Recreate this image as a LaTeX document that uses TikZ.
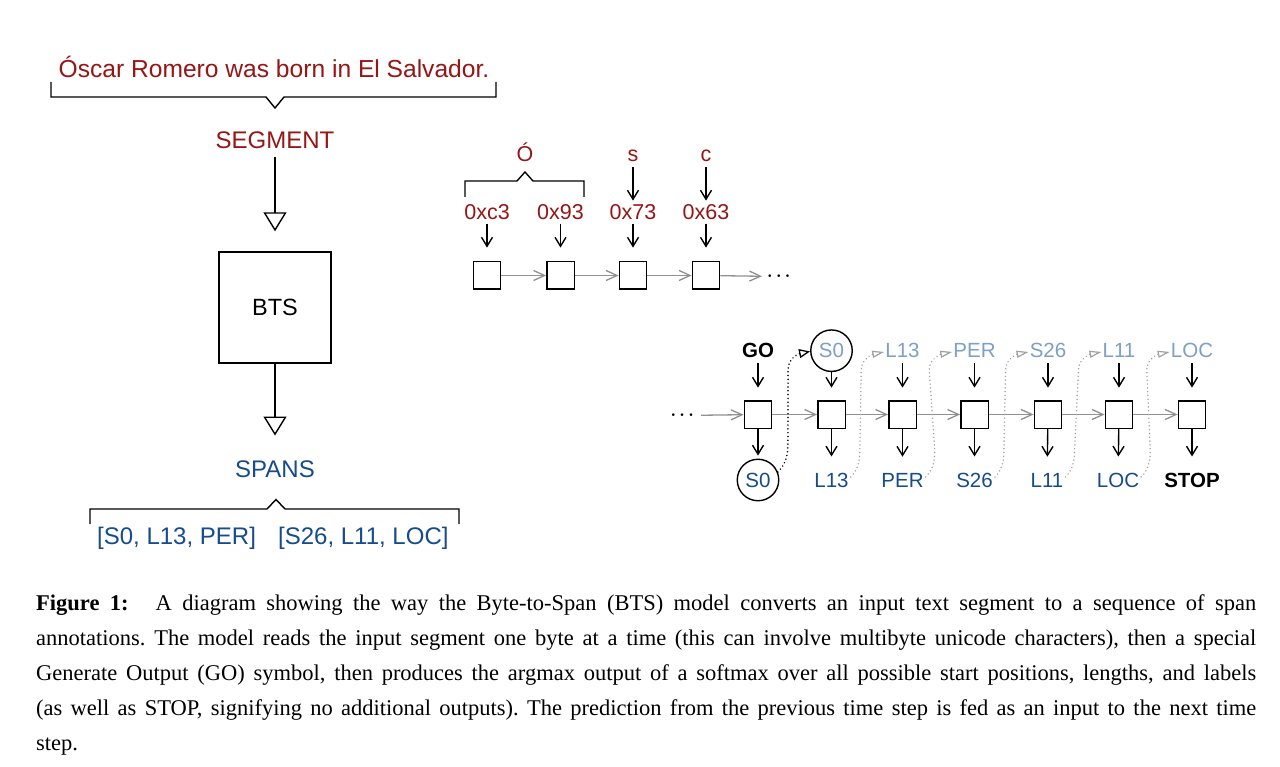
\documentclass[tikz,border=0pt]{standalone}
\usepackage{fontspec}
\setmainfont{Liberation Serif}
\newfontfamily\hv{Liberation Sans}
\usetikzlibrary{arrows.meta,calc}
\definecolor{dred}{RGB}{150,22,22}
\definecolor{dblue}{RGB}{22,75,140}
\definecolor{lblue}{RGB}{125,160,200}
\definecolor{agray}{RGB}{145,145,145}
\definecolor{dgray}{RGB}{160,160,160}
\begin{document}
\frenchspacing
\begin{tikzpicture}[x=1pt,y=-1pt,
  bigtxt/.style={inner sep=0pt, font=\hv\fontsize{24}{28}\selectfont},
  bytetxt/.style={inner sep=0pt, font=\hv\fontsize{21.5}{25}\selectfont, text=dred},
  lbl/.style={inner sep=0pt, font=\hv\fontsize{20.5}{24}\selectfont},
  boldlbl/.style={inner sep=0pt, font=\hv\bfseries\fontsize{20.5}{24}\selectfont},
  cell/.style={draw, line width=1.4pt, minimum size=27.4pt, inner sep=0pt},
  ring/.style={draw, circle, line width=1.4pt, minimum size=41.5pt, inner sep=0pt, font=\hv\fontsize{20.5}{24}\selectfont},
  bline/.style={line width=1.4pt},
  darr/.style={line width=1.4pt, -{Straight Barb[length=9pt,width=11pt,line width=1.4pt]}},
  garr/.style={line width=1.3pt, draw=agray, -{Straight Barb[length=11pt,width=10pt,line width=1.3pt]}},
  bigarr/.style={line width=1.4pt, -{Triangle[open, length=19pt, width=23pt]}},
  kdot/.style={line width=1.7pt, dash pattern=on 0.01pt off 3.8pt, line cap=round, -{Triangle[open, length=11pt, width=9pt, line width=1.3pt]}},
  gdot/.style={line width=1.6pt, draw=dgray, dash pattern=on 0.01pt off 3.8pt, line cap=round, -{Triangle[open, length=12pt, width=7pt, line width=1.2pt]}},
  dotstxt/.style={inner sep=0pt, font=\fontsize{17}{17}\selectfont\boldmath},
  captxt/.style={inner sep=0pt, anchor=base west, font=\fontsize{22.5}{26}\selectfont}
]
\fill[white] (0,0) rectangle (1280,767);
\useasboundingbox (0,0) rectangle (1280,767);

% ---------- left column ----------
\node[bigtxt, text=dred, anchor=base, font=\hv\fontsize{24.6}{28}\selectfont] (sent) at (274,78) {Óscar Romero was born in El Salvador.};
\draw[bline] (51,82) -- (51,97) -- (266,97) -- (275,108) -- (284,97) -- (496,97) -- (496,82);
\node[bigtxt, text=dred, anchor=base] (seg) at (275,149) {SEGMENT};
\node[draw, line width=1.4pt, minimum width=112pt, minimum height=111pt, inner sep=0pt, font=\hv\fontsize{23.5}{28}\selectfont] (bts) at (275,307.5) {BTS};
\node[bigtxt, text=dblue, anchor=base] (spans) at (275,477) {SPANS};
\draw[bigarr, shorten <=8pt, shorten >=20pt] (seg) -- (bts);
\draw[bigarr, shorten >=24.5pt] (bts) -- (spans);
\draw[bline] (90,524) -- (90,509) -- (267,509) -- (276,499.5) -- (285,509) -- (459,509) -- (459,524);
\node[bigtxt, text=dblue, anchor=base west] (sp1) at (97,544) {[S0, L13, PER]};
\node[bigtxt, text=dblue, anchor=base west] (sp2) at (278,544) {[S26, L11, LOC]};

% ---------- byte row ----------
\node[bytetxt, anchor=base] (oac) at (525,162) {Ó};
\draw[bline] (465,197) -- (465,181) -- (517,181) -- (525,172) -- (533,181) -- (584,181) -- (584,197);
\node[bytetxt, anchor=base] (cs) at (633,162) {s};
\node[bytetxt, anchor=base] (cc) at (706,162) {c};
\node[bytetxt, anchor=base] (h1) at (487,219.3) {0xc3};
\node[bytetxt, anchor=base] (h2) at (560.5,219.3) {0x93};
\node[bytetxt, anchor=base] (h3) at (633,219.3) {0x73};
\node[bytetxt, anchor=base] (h4) at (706,219.3) {0x63};
\node[cell] (a1) at (487,275.5) {};
\node[cell] (a2) at (560.5,275.5) {};
\node[cell] (a3) at (633,275.5) {};
\node[cell] (a4) at (706,275.5) {};
\node[dotstxt, anchor=west] (dots1) at (767,276.5) {$\cdots$};
\draw[darr, shorten <=5pt, shorten >=3.5pt] (cs) -- (h3);
\draw[darr, shorten <=5pt, shorten >=3.5pt] (cc) -- (h4);
\foreach \i in {1,2,3,4} { \draw[darr, shorten <=4pt, shorten >=13.5pt] (h\i) -- (a\i); }
\draw[garr] (a1) -- (a2);
\draw[garr] (a2) -- (a3);
\draw[garr] (a3) -- (a4);
\draw[garr, shorten >=5pt] (a4) -- (dots1);

% ---------- output row ----------
\node[dotstxt, anchor=east] (dots2) at (694,415.5) {$\cdots$};
\node[cell] (b1) at (758,414.5) {};
\node[cell] (b2) at (831.5,414.5) {};
\node[cell] (b3) at (902.5,414.5) {};
\node[cell] (b4) at (974.5,414.5) {};
\node[cell] (b5) at (1048,414.5) {};
\node[cell] (b6) at (1119,414.5) {};
\node[cell] (b7) at (1192,414.5) {};
\draw[garr, shorten <=7pt] (dots2) -- (b1);
\draw[garr] (b1) -- (b2);
\draw[garr] (b2) -- (b3);
\draw[garr] (b3) -- (b4);
\draw[garr] (b4) -- (b5);
\draw[garr] (b5) -- (b6);
\draw[garr] (b6) -- (b7);

% top labels
\node[boldlbl, anchor=base] (go) at (758,357) {GO};
\node[ring, text=lblue] (ts0) at (831.5,350.7) {S0};
\node[lbl, text=lblue, anchor=base] (t3) at (902.5,357) {L13};
\node[lbl, text=lblue, anchor=base] (t4) at (974.5,357) {PER};
\node[lbl, text=lblue, anchor=base] (t5) at (1048,357) {S26};
\node[lbl, text=lblue, anchor=base] (t6) at (1119,357) {L11};
\node[lbl, text=lblue, anchor=base] (t7) at (1192,357) {LOC};
\draw[darr, shorten <=6pt, shorten >=12.5pt] (go) -- (b1);
\draw[darr, shorten <=-1pt, shorten >=12.5pt] (ts0) -- (b2);
\draw[darr, shorten <=6pt, shorten >=12.5pt] (t3) -- (b3);
\draw[darr, shorten <=6pt, shorten >=12.5pt] (t4) -- (b4);
\draw[darr, shorten <=6pt, shorten >=12.5pt] (t5) -- (b5);
\draw[darr, shorten <=6pt, shorten >=12.5pt] (t6) -- (b6);
\draw[darr, shorten <=6pt, shorten >=12.5pt] (t7) -- (b7);

% bottom labels
\node[ring, text=dblue] (bs0) at (758,480) {S0};
\node[lbl, text=dblue, anchor=base] (l2) at (831.5,487) {L13};
\node[lbl, text=dblue, anchor=base] (l3) at (902.5,487) {PER};
\node[lbl, text=dblue, anchor=base] (l4) at (974.5,487) {S26};
\node[lbl, text=dblue, anchor=base] (l5) at (1047,487) {L11};
\node[lbl, text=dblue, anchor=base] (l6) at (1118,487) {LOC};
\node[boldlbl, anchor=base] (l7) at (1192,487) {STOP};
\draw[darr, shorten >=3pt] (b1) -- (bs0);
\draw[darr, shorten >=16pt] (b2) -- (l2);
\draw[darr, shorten >=16pt] (b3) -- (l3);
\draw[darr, shorten >=16pt] (b4) -- (l4);
\draw[darr, shorten >=16pt] (b5) -- (l5);
\draw[darr, shorten >=16pt] (b6) -- (l6);
\draw[darr, shorten >=16pt] (b7) -- (l7);

% feedback curves
\coordinate (s1) at (bs0.22);
\coordinate (e1) at (ts0.182);
\draw[kdot] (s1) .. controls +(6,-6) and +(0,12) .. ($(s1)+(10,-26)$) -- ($(e1)+(-22,18)$) .. controls +(0,-12) and +(-10,2) .. (e1);
\foreach \a/\b in {l2/t3, l3/t4, l4/t5, l5/t6, l6/t7} {
  \coordinate (s) at ([xshift=2pt,yshift=3pt]\a.east);
  \coordinate (e) at ([xshift=-1pt,yshift=-2pt]\b.west);
  \draw[gdot] (s) .. controls +(6,-6) and +(0,12) .. ($(s)+(9,-26)$) -- ($(e)+(-23,18)$) .. controls +(0,-12) and +(-10,2) .. (e);
}

% ---------- caption ----------
\node[captxt] (cap1) at (36,610) {\makebox[1220pt][s]{\textbf{Figure 1:}\hspace{27pt}A diagram showing the way the Byte-to-Span (BTS) model converts an input text segment to a sequence of span}};
\node[captxt] (cap2) at (36,645) {\makebox[1220pt][s]{annotations. The model reads the input segment one byte at a time (this can involve multibyte unicode characters), then a special}};
\node[captxt] (cap3) at (36,680) {\makebox[1220pt][s]{Generate Output (GO) symbol, then produces the argmax output of a softmax over all possible start positions, lengths, and labels}};
\node[captxt] (cap4) at (36,715) {\makebox[1220pt][s]{(as well as STOP, signifying no additional outputs). The prediction from the previous time step is fed as an input to the next time}};
\node[captxt] (cap5) at (36,750) {step.};
\end{tikzpicture}
\end{document}
